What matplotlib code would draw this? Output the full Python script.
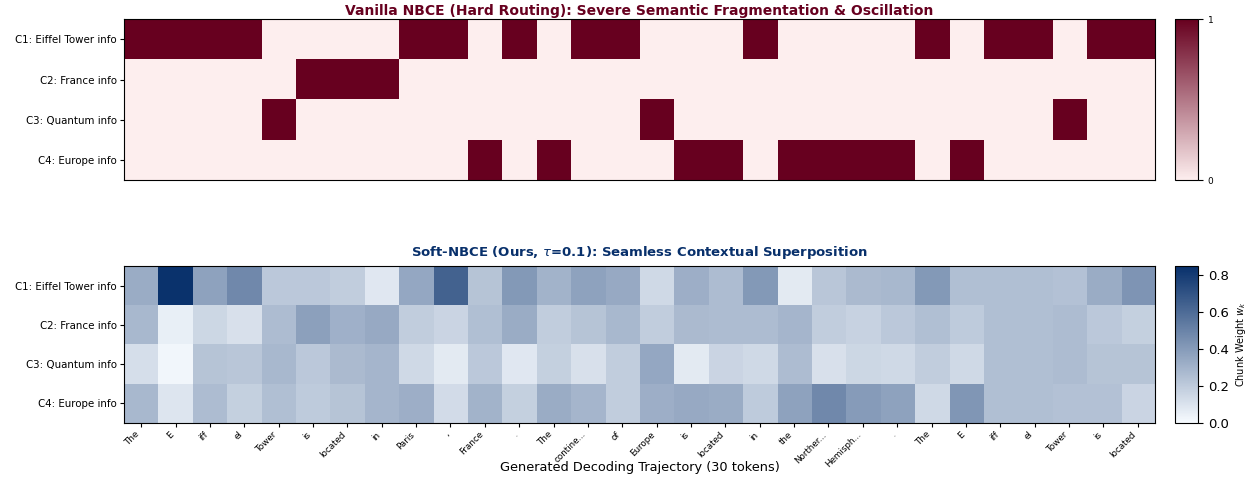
import numpy as np
import matplotlib
matplotlib.use("Agg")
import matplotlib.pyplot as plt
from matplotlib.colors import LinearSegmentedColormap

chunks = ["C1: Eiffel Tower info", "C2: France info", "C3: Quantum info", "C4: Europe info"]
tokens = ["The", "E", "iff", "el", "Tower", "is", "located", "in", "Paris", ",",
          "France", ".", "The", "contine...", "of", "Europe", "is", "located", "in", "the",
          "Norther...", "Hemisph...", ".", "The", "E", "iff", "el", "Tower", "is", "located"]

# hard routing: index of the chunk picked at each step
hard_choice = [0, 0, 0, 0, 2, 1, 1, 1, 0, 0,
               3, 0, 3, 0, 0, 2, 3, 3, 0, 3,
               3, 3, 3, 0, 3, 0, 0, 2, 0, 0]

# soft weights per chunk (rows) and token (columns)
w_c1 = [0.33, 0.84, 0.37, 0.48, 0.21, 0.21, 0.19, 0.08, 0.35, 0.64,
        0.23, 0.41, 0.30, 0.37, 0.34, 0.14, 0.32, 0.26, 0.41, 0.07,
        0.22, 0.27, 0.28, 0.41, 0.25, 0.25, 0.25, 0.24, 0.33, 0.43]
w_c2 = [0.28, 0.05, 0.15, 0.11, 0.26, 0.38, 0.31, 0.34, 0.19, 0.16,
        0.25, 0.33, 0.19, 0.23, 0.28, 0.19, 0.27, 0.26, 0.26, 0.29,
        0.19, 0.17, 0.21, 0.25, 0.20, 0.25, 0.25, 0.26, 0.21, 0.18]
w_c3 = [0.12, 0.02, 0.23, 0.22, 0.28, 0.21, 0.27, 0.29, 0.14, 0.07,
        0.21, 0.08, 0.18, 0.11, 0.19, 0.35, 0.07, 0.16, 0.14, 0.26,
        0.11, 0.15, 0.14, 0.19, 0.14, 0.25, 0.25, 0.26, 0.23, 0.23]
w_c4 = [0.28, 0.09, 0.26, 0.18, 0.25, 0.20, 0.23, 0.29, 0.32, 0.13,
        0.30, 0.18, 0.33, 0.29, 0.19, 0.32, 0.34, 0.33, 0.20, 0.37,
        0.48, 0.40, 0.37, 0.14, 0.42, 0.25, 0.25, 0.24, 0.24, 0.16]

hard = np.zeros((len(chunks), len(tokens)))
for t, c in enumerate(hard_choice):
    hard[c, t] = 1
soft = np.array([w_c1, w_c2, w_c3, w_c4])

red_cmap = LinearSegmentedColormap.from_list("hard", ["#fdeeee", "#67001f"])
blue_cmap = LinearSegmentedColormap.from_list("soft", ["#f7fbff", "#08306b"])

fig = plt.figure(figsize=(12.47, 4.8), dpi=100)
ax1 = fig.add_axes([0.0994, 0.625, 0.8268, 0.335])
cax1 = fig.add_axes([0.9423, 0.625, 0.0184, 0.335])
ax2 = fig.add_axes([0.0994, 0.1188, 0.8268, 0.327])
cax2 = fig.add_axes([0.9423, 0.1188, 0.0184, 0.327])

im1 = ax1.imshow(hard, cmap=red_cmap, vmin=0, vmax=1, aspect="auto", interpolation="nearest")
ax1.set_yticks(range(len(chunks)))
ax1.set_yticklabels(chunks, fontsize=7.4)
ax1.tick_params(axis="y", length=3, pad=2)
ax1.set_xticks([])
ax1.set_title("Vanilla NBCE (Hard Routing): Severe Semantic Fragmentation & Oscillation",
              fontsize=10, fontweight="bold", color="#67001f", pad=3)
cb1 = fig.colorbar(im1, cax=cax1, ticks=[0, 1])
cb1.ax.tick_params(labelsize=6.5)

im2 = ax2.imshow(soft, cmap=blue_cmap, vmin=0, vmax=0.85, aspect="auto", interpolation="nearest")
ax2.set_yticks(range(len(chunks)))
ax2.set_yticklabels(chunks, fontsize=7.4)
ax2.tick_params(axis="y", length=3, pad=2)
ax2.set_xticks(range(len(tokens)))
ax2.set_xticklabels(tokens, rotation=45, ha="right", fontsize=6.3)
ax2.tick_params(axis="x", length=3, pad=2)
ax2.set_xlabel("Generated Decoding Trajectory (30 tokens)", fontsize=9.3)
ax2.xaxis.set_label_coords(0.5, -0.245)
ax2.set_title(r"Soft-NBCE (Ours, $\tau$=0.1): Seamless Contextual Superposition",
              fontsize=9.5, fontweight="bold", color="#08306b", pad=7)
cb2 = fig.colorbar(im2, cax=cax2, ticks=[0.0, 0.2, 0.4, 0.6, 0.8])
cb2.ax.tick_params(labelsize=9.5)
cb2.set_label(r"Chunk Weight $w_k$", fontsize=7)

plt.savefig("out.png", dpi=100)
